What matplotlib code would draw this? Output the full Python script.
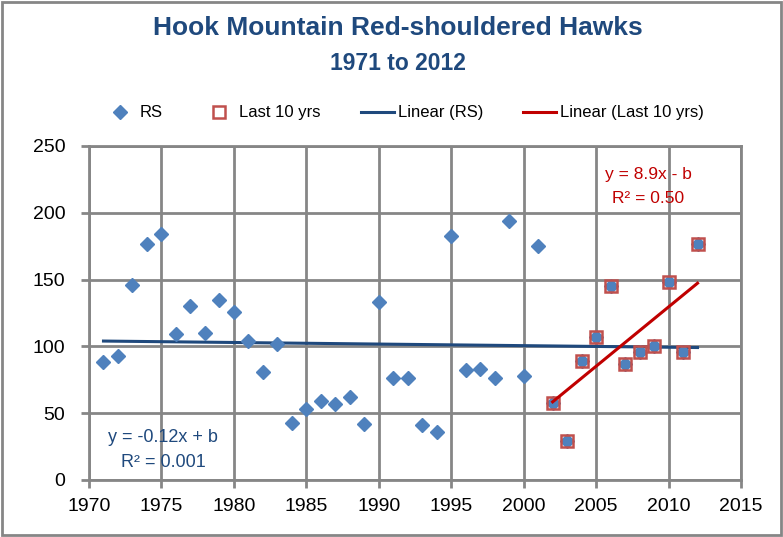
import matplotlib
matplotlib.use("Agg")
import matplotlib.pyplot as plt
import matplotlib.patches as mpatches
from matplotlib.lines import Line2D
import numpy as np

plt.rcParams['font.family'] = ['Liberation Sans', 'DejaVu Sans']

# data
years = list(range(1971, 2013))
rs = [88, 93, 146, 177, 184, 109, 130, 110, 135, 126,
      104, 81, 102, 43, 53, 59, 57, 62, 42, 133,
      76, 76, 41, 36, 183, 82, 83, 76, 194, 78,
      175, 58, 29, 89, 107, 145, 87, 96, 100, 148,
      96, 177]
last_years = years[-11:]
last_rs = rs[-11:]

title = "Hook Mountain Red-shouldered Hawks"
subtitle = "1971 to 2012"
eq_all = ["y = -0.12x + b", "R\u00b2 = 0.001"]
eq_last = ["y = 8.9x - b", "R\u00b2 = 0.50"]

blue = "#4F81BD"
red = "#C0504D"
dark_blue = "#1F497D"
dark_red = "#C00000"
grid_col = "#868686"

fig = plt.figure(figsize=(7.83, 5.37), dpi=100)
ax = fig.add_axes([89 / 783, 57 / 537, 652 / 783, 334 / 537])

# trend lines
x = np.array(years, dtype=float)
c = np.polyfit(x, rs, 1)
xl = np.array(last_years, dtype=float)
cl = np.polyfit(xl, last_rs, 1)

ax.plot(x, np.polyval(c, x), color=dark_blue, lw=2.2, zorder=3)
ax.plot(years, rs, ls="none", marker="D", ms=7, color=blue, zorder=4)
ax.plot(last_years, last_rs, ls="none", marker="s", ms=9, mfc="none",
        mec=red, mew=1.8, zorder=5)
ax.plot(xl, np.polyval(cl, xl), color=dark_red, lw=2.2, zorder=6)

ax.set_xlim(1970, 2015)
ax.set_ylim(0, 250)
ax.set_xticks(range(1970, 2016, 5))
ax.set_yticks(range(0, 251, 50))
ax.grid(True, color=grid_col, lw=2)
ax.set_axisbelow(True)
for s in ax.spines.values():
    s.set_color(grid_col)
    s.set_linewidth(2)
ax.tick_params(axis="both", direction="out", length=6, width=2,
               color=grid_col, labelsize=14)
ax.tick_params(axis="x", pad=7)
ax.tick_params(axis="y", pad=11)

# equations
ax.text(1975.1, 32, eq_all[0], color=dark_blue, fontsize=13, ha="center", va="center")
ax.text(1975.1, 13, eq_all[1], color=dark_blue, fontsize=13, ha="center", va="center")
ax.text(2008.6, 229, eq_last[0], color=dark_red, fontsize=12.5, ha="center", va="center")
ax.text(2008.6, 211, eq_last[1], color=dark_red, fontsize=12.5, ha="center", va="center")

# titles
fig.text(0.508, 1 - 28 / 537, title, color=dark_blue, fontsize=19,
         fontweight="bold", ha="center", va="center")
fig.text(0.508, 1 - 64 / 537, subtitle, color=dark_blue, fontsize=16.5,
         fontweight="bold", ha="center", va="center")

# legend
handles = [
    Line2D([], [], ls="none", marker="D", ms=7, color=blue),
    Line2D([], [], ls="none", marker="s", ms=9, mfc="none", mec=red, mew=1.8),
    Line2D([], [], color=dark_blue, lw=2.2),
    Line2D([], [], color=dark_red, lw=2.2),
]
labels = ["RS", "Last 10 yrs", "Linear (RS)", "Linear (Last 10 yrs)"]
fig.legend(handles, labels, loc="center", bbox_to_anchor=(0.515, 1 - 113 / 537),
           ncol=4, frameon=False, fontsize=12, handlelength=2.0,
           handletextpad=0.2, columnspacing=2.4)

# chart area border
fig.patches.append(mpatches.Rectangle((0.002, 0.003), 0.996, 0.994,
                                      transform=fig.transFigure, fill=False,
                                      edgecolor=grid_col, lw=2))

fig.savefig("out.png", dpi=100)
